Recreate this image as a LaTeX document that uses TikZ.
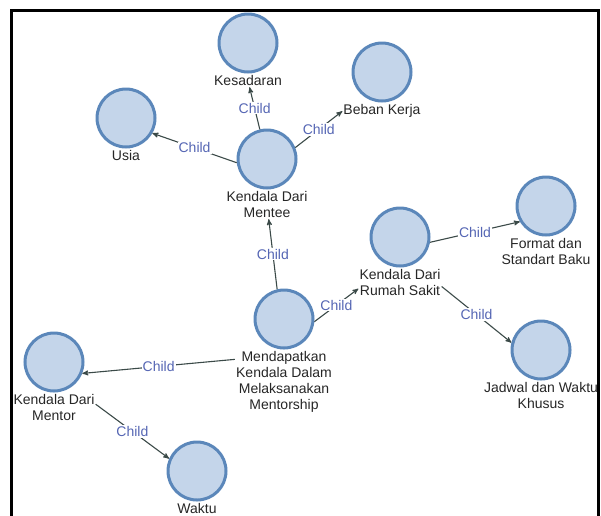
\documentclass[tikz,border=0pt]{standalone}
\usepackage{fontspec}
\setmainfont{Liberation Sans}
\usepackage{tikz}
\usetikzlibrary{positioning, arrows}

\definecolor{nodefill}{HTML}{C4D5EA}
\definecolor{nodeborder}{HTML}{5B87BA}
\definecolor{edgegray}{HTML}{3B4A48}
\definecolor{childblue}{HTML}{5566B4}

\tikzset{
  concept/.style={circle, draw=nodeborder, fill=nodefill, line width=3pt, minimum size=58pt, inner sep=0pt},
  caption/.style={align=center, inner sep=1pt, text=black!85, font=\fontsize{14}{16}\selectfont},
  link/.style={draw=edgegray, line width=1.1pt},
  childlbl/.style={fill=white, inner sep=1pt, text=childblue, font=\fontsize{14}{16}\selectfont}
}

\begin{document}
\begin{tikzpicture}[>=stealth']
        \useasboundingbox (0,0) rectangle (601pt,-515pt);
        \draw[line width=3pt] (11pt,-520pt) |- (598pt,-10pt) -- (598pt,-520pt);

        % Root
        \node[concept] (mend) at (284pt,-319pt) {};
        \node[caption] (mend-txt) [below=1pt of mend] {Mendapatkan\\Kendala Dalam\\Melaksanakan\\Mentorship};

        % Kendala dari mentee
        \node[concept, on grid] (mte) [above left=160pt and 17pt of mend] {};
        \node[caption] (mte-txt) [below=1pt of mte] {Kendala Dari\\Mentee};
        \node[concept, on grid] (kes) [above left=116pt and 19pt of mte] {};
        \node[caption] (kes-txt) [below=1pt of kes] {Kesadaran};
        \node[concept, on grid] (beb) [above right=87pt and 115pt of mte] {};
        \node[caption] (beb-txt) [below=1pt of beb] {Beban Kerja};
        \node[concept, on grid] (usi) [above left=41pt and 141pt of mte] {};
        \node[caption] (usi-txt) [below=1pt of usi] {Usia};

        % Kendala dari rumah sakit
        \node[concept, on grid] (rs) [above right=82pt and 116pt of mend] {};
        \node[caption] (rs-txt) [below=1pt of rs] {Kendala Dari\\Rumah Sakit};
        \node[concept, on grid] (fmt) [above right=31pt and 146pt of rs] {};
        \node[caption] (fmt-txt) [below=1pt of fmt] {Format dan\\Standart Baku};
        \node[concept, on grid] (jad) [below right=113pt and 141pt of rs] {};
        \node[caption] (jad-txt) [below=1pt of jad] {Jadwal dan Waktu\\Khusus};

        % Kendala dari mentor
        \node[concept, on grid] (mtr) [below left=43pt and 230pt of mend] {};
        \node[caption] (mtr-txt) [below=1pt of mtr] {Kendala Dari\\Mentor};
        \node[concept, on grid] (wak) [below right=109pt and 143pt of mtr] {};
        \node[caption] (wak-txt) [below=1pt of wak] {Waktu};

        \path[->]
        % Root to the three groups
        (mend.103) edge[link] node[childlbl] {Child} (mte-txt)
        (mend.-5) edge[link] node[childlbl] {Child} (rs-txt.188)
        (mend-txt.155) edge[link] node[childlbl] {Child} (mtr.-22)

        % Mentee branch
        (mte) edge[link] node[childlbl] {Child} (kes-txt)
        (mte.22) edge[link] node[childlbl] {Child} (beb-txt.west)
        (mte.187) edge[link] node[childlbl] {Child} (usi.-30)

        % Rumah sakit branch
        (rs.-10) edge[link] node[childlbl] {Child} (fmt.211)
        (rs-txt.-5) edge[link] node[childlbl] {Child} (jad.166)

        % Mentor branch
        (mtr-txt.5) edge[link] node[childlbl] {Child} (wak.156);
    \end{tikzpicture}
\end{document}
